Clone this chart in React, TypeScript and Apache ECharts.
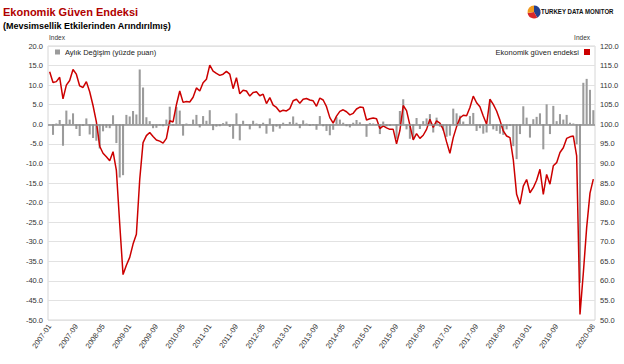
import React, { useEffect, useRef } from "react";
import * as echarts from "echarts";

// Monthly categories 2007-01 .. 2020-08
const months: string[] = [];
for (let y = 2007; y <= 2020; y++) {
  for (let m = 1; m <= 12; m++) {
    if (y === 2020 && m > 8) break;
    months.push(`${y}-${m < 10 ? "0" + m : m}`);
  }
}

// Economic confidence index (right axis)
const indexValues = [
  113.4, 110.7, 110.9, 112.0, 106.5, 110.0, 111.2, 114.0, 112.8, 109.8,
  109.4, 110.9, 108.3, 104.8, 100.6, 94.4, 92.6, 91.7, 90.7, 93.0,
  88.2, 74.6, 61.6, 64.0, 66.0, 69.4, 71.9, 85.9, 95.3, 97.1,
  97.9, 96.9, 96.0, 95.7, 95.2, 96.4, 100.9, 100.6, 105.0, 108.5,
  105.6, 105.8, 105.7, 106.9, 109.3, 108.5, 110.6, 111.5, 115.1, 113.6,
  113.0, 112.5, 112.8, 113.5, 112.8, 109.1, 111.9, 107.8, 108.7, 108.5,
  107.2, 108.1, 108.3, 107.3, 107.7, 105.3, 106.8, 104.9, 104.3, 103.2,
  103.6, 103.4, 104.0, 106.0, 106.4, 105.4, 106.4, 106.6, 106.2, 106.0,
  104.6, 106.7, 106.2, 104.5, 101.7, 100.3, 102.1, 103.3, 103.7, 103.2,
  102.4, 102.8, 103.9, 104.4, 104.3, 101.1, 101.4, 101.6, 101.4, 98.9,
  99.6, 99.1, 98.7, 98.7, 95.0, 98.4, 104.8, 103.5, 99.8, 96.0,
  97.6, 96.4, 97.2, 98.7, 101.3, 99.2, 100.9, 100.3, 98.7, 95.5,
  92.6, 96.6, 99.4, 101.6, 102.3, 102.2, 104.3, 107.2, 105.5, 104.5,
  102.1, 100.0, 106.4, 105.1, 103.4, 101.0, 98.3, 97.0, 96.6, 91.0,
  82.1, 79.6, 84.2, 85.9, 82.5, 83.8, 85.7, 88.5, 82.1, 87.2,
  84.7, 89.4, 90.2, 92.8, 94.0, 96.4, 96.8, 97.0, 91.9, 51.4,
  62.0, 73.6, 82.4, 86.0,
];

// Monthly change in points (left axis)
const monthlyChange = [
  null, -2.7, 0.2, 1.1, -5.5, 3.5, 1.2, 2.8, -1.2, -3.0,
  -0.4, 1.5, -2.6, -3.5, -4.2, -6.2, -1.8, -0.9, -1.0, 2.3,
  -4.8, -13.6, -13.0, 2.4, 2.0, 3.4, 2.5, 14.0, 9.4, 1.8,
  0.8, -1.0, -0.9, -0.3, -0.5, 1.2, 4.5, -0.3, 4.4, 3.5,
  -2.9, 0.2, -0.1, 1.2, 2.4, -0.8, 2.1, 0.9, 3.6, -1.5,
  -0.6, -0.5, 0.3, 0.7, -0.7, -3.7, 2.8, -4.1, 0.9, -0.2,
  -1.3, 0.9, 0.2, -1.0, 0.4, -2.4, 1.5, -1.9, -0.6, -1.1,
  0.4, -0.2, 0.6, 2.0, 0.4, -1.0, 1.0, 0.2, -0.4, -0.2,
  -1.4, 2.1, -0.5, -1.7, -2.8, -1.4, 1.8, 1.2, 0.4, -0.5,
  -0.8, 0.4, 1.1, 0.5, -0.1, -3.2, 0.3, 0.2, -0.2, -2.5,
  0.7, -0.5, -0.4, 0.0, -3.7, 3.4, 6.4, -1.3, -3.7, -3.8,
  1.6, -1.2, 0.8, 1.5, 2.6, -2.1, 1.7, -0.6, -1.6, -3.2,
  -2.9, 4.0, 2.8, 2.2, 0.7, -0.1, 2.1, 2.9, -1.7, -1.0,
  -2.4, -2.1, 6.4, -1.3, -1.7, -2.4, -2.7, -1.3, -0.4, -5.6,
  -8.9, -2.5, 4.6, 1.7, -3.4, 1.3, 1.9, 2.8, -6.4, 5.1,
  -2.5, 4.7, 0.8, 2.6, 1.2, 2.4, 0.4, 0.2, -5.1, -40.5,
  10.6, 11.6, 8.8, 3.6,
];

const barName = "Aylık Değişim (yüzde puan)";
const lineName = "Ekonomik güven endeksi";
const FONT = "'Liberation Sans', Arial, Helvetica, sans-serif";

export default function App() {
  const ref = useRef<HTMLDivElement>(null);
  useEffect(() => {
    const chart = echarts.init(ref.current!, null, { renderer: "svg" });
    const lastIdx = months.length - 1;
    chart.setOption({
      animation: false,
      backgroundColor: "#ffffff",
      textStyle: { fontFamily: FONT },
      title: [
        {
          text: "Ekonomik Güven Endeksi",
          left: 3,
          top: 6,
          padding: 0,
          textStyle: { fontSize: 11, fontWeight: "bold", color: "#b00000", fontFamily: FONT },
        },
        {
          text: "(Mevsimsellik Etkilerinden Arındırılmış)",
          left: 3,
          top: 21,
          padding: 0,
          textStyle: { fontSize: 9, fontWeight: "bold", color: "#000", fontFamily: FONT },
        },
      ],
      legend: [
        {
          data: [{ name: barName, icon: "rect" }],
          left: 55,
          top: 48,
          padding: 0,
          itemWidth: 5,
          itemHeight: 5,
          textStyle: { fontSize: 7.5, color: "#222", fontFamily: FONT },
        },
        {
          data: [{ name: lineName, icon: "rect" }],
          right: 34,
          top: 48,
          align: "right",
          padding: 0,
          itemWidth: 6,
          itemHeight: 6,
          textStyle: { fontSize: 7.5, color: "#222", fontFamily: FONT },
        },
      ],
      grid: {
        left: 48,
        right: 29,
        top: 46,
        bottom: 44,
        show: true,
        borderColor: "#d6d6d6",
        borderWidth: 1,
      },
      xAxis: {
        type: "category",
        data: months,
        boundaryGap: true,
        axisLine: { show: false, onZero: false },
        axisTick: { show: false },
        splitLine: { show: false },
        axisLabel: {
          rotate: 55,
          fontSize: 7.5,
          color: "#333",
          margin: 5,
          interval: (i: number) => i === lastIdx || (i % 8 === 0 && i <= lastIdx - 8),
        },
      },
      yAxis: [
        {
          type: "value",
          min: -50,
          max: 20,
          interval: 5,
          position: "left",
          axisLine: { show: false },
          axisTick: { show: false },
          axisLabel: {
            fontSize: 7.5,
            color: "#333",
            margin: 5,
            formatter: (v: number) => v.toFixed(1),
          },
          splitLine: { lineStyle: { color: "#e2e2e2", width: 1 } },
        },
        {
          type: "value",
          min: 50,
          max: 120,
          interval: 5,
          position: "right",
          axisLine: { show: false },
          axisTick: { show: false },
          axisLabel: {
            fontSize: 7.5,
            color: "#333",
            margin: 5,
            formatter: (v: number) => v.toFixed(1),
          },
          splitLine: { show: false },
        },
      ],
      series: [
        {
          name: barName,
          type: "bar",
          data: monthlyChange,
          barWidth: "62%",
          itemStyle: { color: "#9b9b9b" },
          markLine: {
            silent: true,
            symbol: "none",
            label: { show: false },
            lineStyle: { color: "#8c8c8c", width: 1.5, type: "solid" },
            data: [{ yAxis: 0 }],
          },
        },
        {
          name: lineName,
          type: "line",
          yAxisIndex: 1,
          data: indexValues,
          symbol: "none",
          lineStyle: { color: "#cc0000", width: 1.5 },
          itemStyle: { color: "#cc0000" },
          z: 3,
        },
      ],
      graphic: [
        {
          type: "text",
          left: 49,
          top: 34,
          style: { text: "Index", fontSize: 6.5, fill: "#333", fontFamily: FONT },
        },
        {
          type: "text",
          right: 34,
          top: 34,
          style: { text: "Index", fontSize: 6.5, fill: "#333", fontFamily: FONT },
        },
        {
          type: "group",
          children: [
            {
              type: "sector",
              shape: { cx: 534, cy: 12, r: 6.5, r0: 0, startAngle: -Math.PI / 2, endAngle: Math.PI / 3 },
              style: { fill: "#23408e" },
            },
            {
              type: "sector",
              shape: { cx: 534, cy: 12, r: 6.5, r0: 0, startAngle: Math.PI / 3, endAngle: Math.PI * 0.95 },
              style: { fill: "#d7262b" },
            },
            {
              type: "sector",
              shape: { cx: 534, cy: 12, r: 6.5, r0: 0, startAngle: Math.PI * 0.95, endAngle: Math.PI * 1.5 },
              style: { fill: "#f29a1f" },
            },
            {
              type: "text",
              x: 541,
              y: 12,
              scaleX: 0.76,
              style: {
                text: "TURKEY DATA MONITOR",
                fontSize: 8,
                fontWeight: "bold",
                fill: "#111",
                fontFamily: FONT,
                textVerticalAlign: "middle",
                verticalAlign: "middle",
              },
            },
          ],
        },
      ],
    });
    return () => chart.dispose();
  }, []);
  return (
    <div
      ref={ref}
      style={{ position: "absolute", left: 0, top: 0, width: 624, height: 364, background: "#fff" }}
    />
  );
}
